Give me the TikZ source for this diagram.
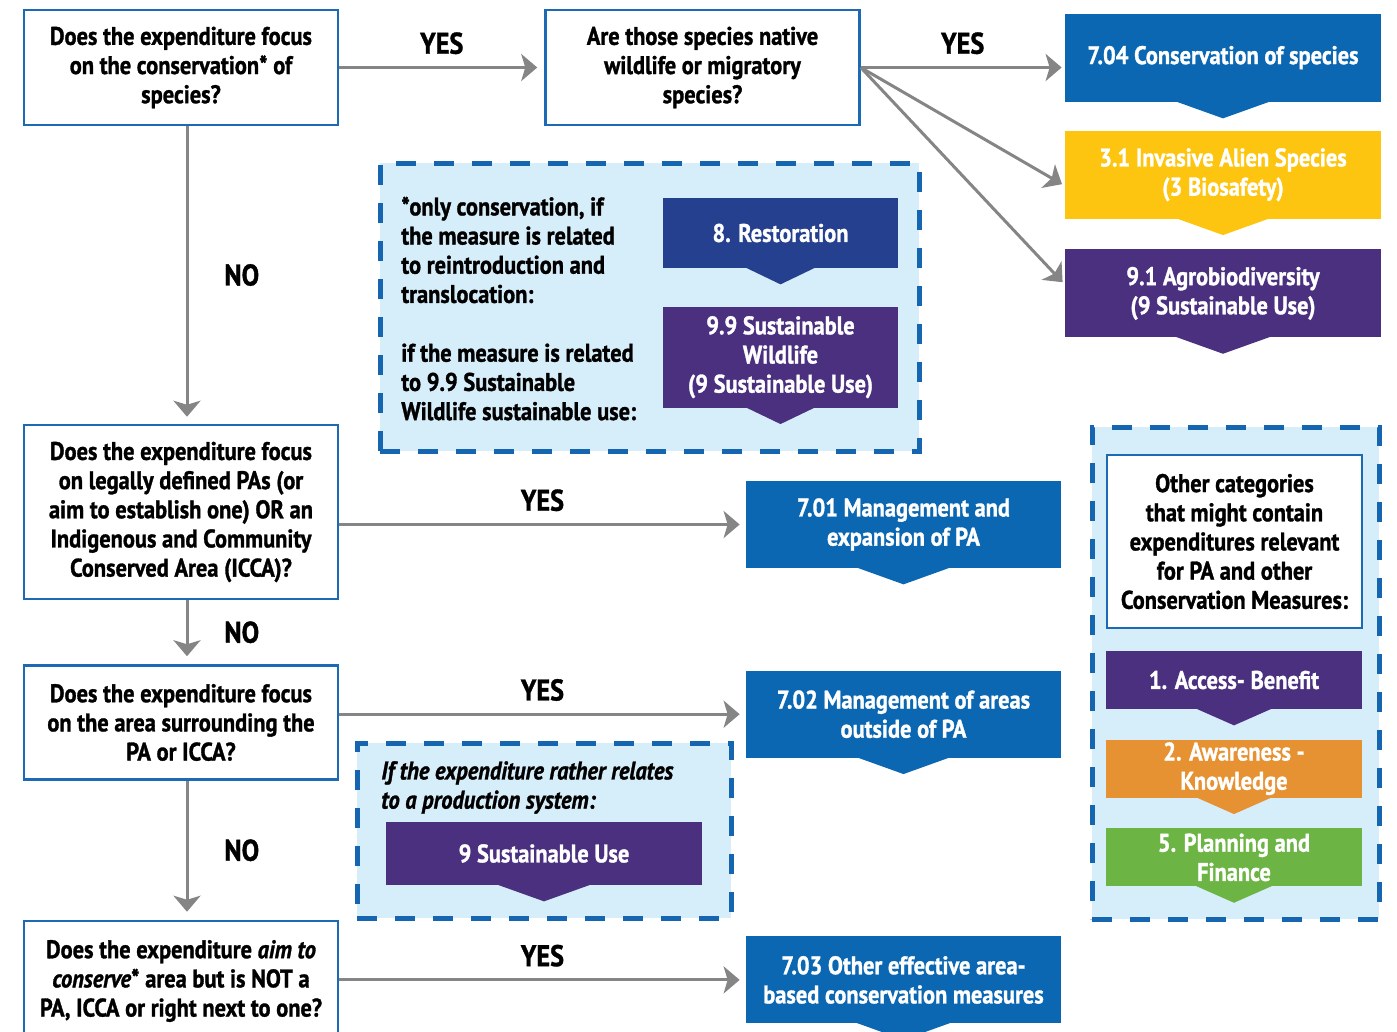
\documentclass[tikz,border=0pt]{standalone}
\usepackage{fontspec}
\setmainfont{PT Sans}[FakeStretch=0.88, BoldFeatures={FakeBold=1.2}, BoldItalicFeatures={FakeBold=1.2}]
\usepackage{tikz}
\usetikzlibrary{positioning,calc,arrows.meta}

\definecolor{qborder}{HTML}{1B6AB3}
\definecolor{catblue}{HTML}{0B67B2}
\definecolor{catnavy}{HTML}{25408F}
\definecolor{catpurple}{HTML}{4B3080}
\definecolor{catyellow}{HTML}{FDC50F}
\definecolor{catorange}{HTML}{E69232}
\definecolor{catgreen}{HTML}{6CB544}
\definecolor{notefill}{HTML}{D6EEFA}
\definecolor{dashblue}{HTML}{1565B0}
\definecolor{arrowgray}{HTML}{858585}

\begin{document}
\begin{tikzpicture}[
    question/.style={rectangle, draw=qborder, line width=0.05cm, fill=white, minimum width=6.28cm, minimum height=2.3cm, inner sep=0pt, align=center, font=\bfseries\fontsize{14.5}{16.6}\selectfont},
    category/.style={rectangle, fill=#1, text=white, minimum width=6.32cm, minimum height=1.76cm, inner sep=0pt, align=center, font=\bfseries\fontsize{14.5}{16.6}\selectfont},
    notebox/.style={rectangle, fill=notefill, draw=dashblue, line width=0.1cm, dash pattern=on 0.4cm off 0.36cm, inner sep=0pt},
    notetext/.style={align=left, inner sep=0pt, font=\bfseries\fontsize{14.5}{16.6}\selectfont},
    flow/.style={draw=arrowgray, line width=0.06cm, -{Stealth[length=0.32cm, width=0.54cm, inset=0.08cm]}},
    answer/.style={font=\bfseries\fontsize{17}{20}\selectfont}
]
    \useasboundingbox (0,0) rectangle (27.94,-20.64);

    % Questions on the left
    \node [question] (q1) at (3.62,-1.35) {Does the expenditure focus\\on the conservation* of\\species?};
    \node [question, right=4.1cm of q1] (q2) {Are those species native\\wildlife or migratory\\species?};
    \node [question, minimum height=3.48cm, below=5.95cm of q1] (q3) {Does the expenditure focus\\on legally defined PAs (or\\aim to establish one) OR an\\Indigenous and Community\\Conserved Area (ICCA)?};
    \node [question, minimum height=2.28cm, below=1.28cm of q3] (q4) {Does the expenditure focus\\on the area surrounding the\\PA or ICCA?};
    \node [question, minimum height=2.4cm, below=2.78cm of q4] (q5) {Does the expenditure \textit{aim to}\\\textit{conserve}* area but is NOT a\\PA, ICCA or right next to one?};

    % Species categories
    \node [category=catblue] (c704) at (24.46,-1.16) {\raisebox{0.12cm}{7.04 Conservation of species}};
    \node [category=catyellow, below=0.56cm of c704] (c31) {3.1 Invasive Alien Species\\(3 Biosafety)};
    \node [category=catpurple, below=0.6cm of c31] (c91) {9.1 Agrobiodiversity\\(9 Sustainable Use)};

    % Area categories
    \node [category=catblue, minimum width=6.3cm, minimum height=1.74cm] (c701) at (18.07,-10.49) {7.01 Management and\\expansion of PA};
    \node [category=catblue, minimum width=6.3cm, minimum height=1.74cm, below=2.04cm of c701] (c702) {7.02 Management of areas\\outside of PA};
    \node [category=catblue, minimum width=6.3cm, minimum height=1.74cm, below=3.56cm of c702] (c703) {7.03 Other effective area-\\based conservation measures};

    % Note on conservation of species
    \node [notebox, minimum width=10.78cm, minimum height=5.76cm] (note1) at (12.99,-6.14) {};
    \node [notetext, anchor=west] (note1a) at (8.02,-5.0) {*only conservation, if\\the measure is related\\to reintroduction and\\translocation:};
    \node [notetext, anchor=west] (note1b) at (8.02,-7.64) {if the measure is related\\to 9.9 Sustainable\\Wildlife sustainable use:};
    \node [category=catnavy, minimum width=4.7cm, minimum height=1.4cm] (r8) at (15.61,-4.66) {8. Restoration};
    \node [category=catpurple, minimum width=4.7cm, minimum height=2.02cm, below=0.76cm of r8] (r99) {9.9 Sustainable\\Wildlife\\(9 Sustainable Use)};

    % Note on production systems
    \node [notebox, minimum width=7.48cm, minimum height=3.5cm] (note2) at (10.88,-16.61) {};
    \node [notetext, anchor=west, font=\bfseries\itshape\fontsize{14.5}{16.6}\selectfont] (note2a) at (7.62,-15.75) {If the expenditure rather relates\\to a production system:};
    \node [category=catpurple, minimum height=1.26cm] (s9) at (10.88,-17.07) {9 Sustainable Use};

    % Other categories
    \node [notebox, minimum width=5.74cm, minimum height=9.84cm] (note3) at (24.71,-13.46) {};
    \node [question, minimum width=5.1cm, minimum height=3.46cm] (other) at (24.69,-10.83) {Other categories\\that might contain\\expenditures relevant\\for PA and other\\Conservation Measures:};
    \node [category=catpurple, minimum width=5.12cm, minimum height=1.16cm] (c1) at (24.68,-13.6) {1. Access- Benefit};
    \node [category=catorange, minimum width=5.12cm, minimum height=1.16cm, below=0.6cm of c1] (c2) {2. Awareness -\\Knowledge};
    \node [category=catgreen, minimum width=5.12cm, minimum height=1.16cm, below=0.6cm of c2] (c5) {5. Planning and\\Finance};

    % Pointers under the category boxes
    \foreach \n/\c in {c704/catblue, c31/catyellow, c91/catpurple, c701/catblue, c702/catblue, c703/catblue, r8/catnavy, r99/catpurple, s9/catpurple, c1/catpurple, c2/catorange, c5/catgreen}
        \fill [\c] ($(\n.south)!0.3!(\n.south west)+(0,0.02)$) -- ($(\n.south)+(0,-0.32)$) -- ($(\n.south)!0.3!(\n.south east)+(0,0.02)$) -- cycle;

    % YES connections
    \draw [flow, shorten >=0.14cm] (q1.east) -- (q2.west) node[midway, above=0.12cm, answer] {YES};
    \draw [flow, shorten >=0.06cm] (q2.east) -- (q2.east -| c704.west) node[midway, above=0.12cm, answer] {YES};
    \draw [flow, shorten >=0.06cm] (q2.east) -- ([yshift=-0.22cm]c31.west);
    \draw [flow, shorten >=0.06cm] (q2.east) -- ([yshift=0.18cm]c91.west);
    \draw [flow, shorten >=0.12cm] (q3.east |- c701.west) -- (c701.west) node[midway, above=0.12cm, answer] {YES};
    \draw [flow, shorten >=0.12cm] (q4.east |- c702.west) -- (c702.west) node[midway, above=0.12cm, answer] {YES};
    \draw [flow, shorten >=0.12cm] (q5.east |- c703.west) -- (c703.west) node[midway, above=0.12cm, answer] {YES};

    % NO connections
    \draw [flow, shorten >=0.14cm] ([xshift=0.12cm]q1.south) -- ([xshift=0.12cm]q3.north) node[midway, right=0.6cm, answer] {NO};
    \draw [flow, shorten >=0.16cm] ([xshift=0.12cm]q3.south) -- ([xshift=0.12cm]q4.north) node[midway, right=0.6cm, answer] {NO};
    \draw [flow, shorten >=0.16cm] ([xshift=0.12cm]q4.south) -- ([xshift=0.12cm]q5.north) node[midway, right=0.6cm, answer] {NO};
\end{tikzpicture}
\end{document}
